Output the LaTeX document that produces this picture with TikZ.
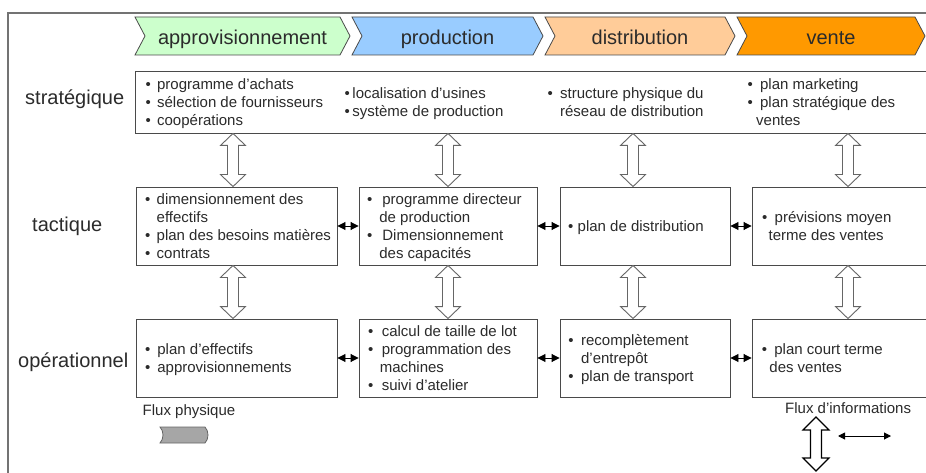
\documentclass[tikz,border=0pt]{standalone}
\usepackage{fontspec}
\setmainfont{Liberation Sans}
\usetikzlibrary{arrows.meta,calc}

\definecolor{cAppro}{HTML}{CCFFCC}
\definecolor{cProd}{HTML}{99CCFF}
\definecolor{cDistr}{HTML}{FFCC99}
\definecolor{cVente}{HTML}{FF9900}
\definecolor{ink}{HTML}{2B2B2B}
\definecolor{edge}{HTML}{4A4A4A}

\newcommand\bodytext{\fontsize{15}{18}\selectfont}
\newcommand\bigtext{\fontsize{20}{24}\selectfont}

% bullet list: bullet column, adjustable gap, text column
\newcommand\items[2][6pt]{\begin{tabular}{@{}l@{\hspace{#1}}l@{}}#2\end{tabular}}

% chevron banner: name, left x, tip x, fill colour, label
\newcommand\banner[5]{%
  \filldraw[band, fill=#4] (#2,17) -- (#3-10,17) -- (#3,36) -- (#3-10,55)
    -- (#2,55) -- (#2+10,36) -- cycle;
  \node[bandtxt, anchor=base] (#1) at ({(#2+#3)/2},44.5) {#5};}

% vertical hollow double arrow: [style]{top}{bottom}{head half width}{shaft half width}{head length}
\newcommand\hollow[6][hol]{%
  \draw[#1] let \p1=#2, \p2=#3 in
    (\x1,\y1) -- (\x1+#4,\y1-#6) -- (\x1+#5,\y1-#6) -- (\x1+#5,\y2+#6)
    -- (\x1+#4,\y2+#6) -- (\x1,\y2) -- (\x1-#4,\y2+#6) -- (\x1-#5,\y2+#6)
    -- (\x1-#5,\y1-#6) -- (\x1-#4,\y1-#6) -- cycle;}

\begin{document}
\begin{tikzpicture}[x=1pt,y=-1pt,
  frame/.style={draw=black!55, line width=1.6pt},
  box/.style={draw=edge, line width=0.9pt, fill=white, inner sep=0pt},
  txt/.style={font=\bodytext, text=ink, inner sep=0pt, anchor=west, yshift=-2pt},
  lvl/.style={font=\bigtext, text=ink, inner sep=0pt, anchor=base west},
  band/.style={draw=edge, line width=0.8pt},
  bandtxt/.style={font=\bigtext, text=ink, inner sep=0pt},
  leg/.style={font=\bodytext, text=ink, inner sep=0pt, anchor=base west},
  link/.style={{Triangle[length=8pt,width=8pt]}-{Triangle[length=8pt,width=8pt]}, line width=0.9pt, black},
  infolink/.style={{Triangle[length=7pt,width=7pt]}-{Triangle[length=7pt,width=7pt]}, line width=1pt, black},
  hol/.style={draw=black!60, line width=0.9pt, fill=white},
  legh/.style={draw=black, line width=1.2pt, fill=white},
]
\clip (0,0) rectangle (926,473);
\fill[white] (0,0) rectangle (926,473);

% outer frame
\draw[frame] (8,480) -- (8,13) -- (940,13);

% process banners
\banner{bA}{135}{350}{cAppro}{approvisionnement}
\banner{bP}{352}{543}{cProd}{production}
\banner{bD}{545}{735}{cDistr}{distribution}
\banner{bV}{737}{925}{cVente}{vente}

% decision levels
\node[lvl] (lS) at (25,104.5) {stratégique};
\node[lvl] (lT) at (32,232) {tactique};
\node[lvl] (lO) at (18,367) {opérationnel};

% boxes
\node[box, minimum width=796pt, minimum height=62pt] (s) at (533,102) {};

\node[box, minimum width=201pt, minimum height=78pt] (t1) at (236.5,226) {};
\node[box, minimum width=178pt, minimum height=78pt] (t2) at (448,226) {};
\node[box, minimum width=170pt, minimum height=78pt] (t3) at (645,226) {};
\node[box, minimum width=183pt, minimum height=78pt] (t4) at (843.5,226) {};

\node[box, minimum width=201pt, minimum height=78pt] (o1) at (236.5,358) {};
\node[box, minimum width=178pt, minimum height=78pt] (o2) at (448,358) {};
\node[box, minimum width=170pt, minimum height=78pt] (o3) at (645,358) {};
\node[box, minimum width=183pt, minimum height=78pt] (o4) at (843.5,358) {};

% strategic contents
\node[txt] (sx1) at (145.4,102) {\items[6.3pt]{•&programme d’achats\\•&sélection de fournisseurs\\•&coopérations}};
\node[txt] (sx2) at (344.5,102) {\items[2.5pt]{•&localisation d’usines\\•&système de production}};
\node[txt] (sx3) at (547.4,102) {\items[7.3pt]{•&structure physique du\\&réseau de distribution}};
\node[txt] (sx4) at (747.4,102) {\items[7.3pt]{•&plan marketing\\•&plan stratégique des\\&\hspace{-4pt}ventes}};

% tactical contents
\node[txt] (tx1) at ([xshift=9.4pt]t1.west) {\items[6.3pt]{•&dimensionnement des\\&effectifs\\•&plan des besoins matières\\•&contrats}};
\node[txt] (tx2) at ([xshift=8.4pt]t2.west) {\items[10pt]{•&programme directeur\\&\hspace{-3pt}de production\\•&Dimensionnement\\&\hspace{-3pt}des capacités}};
\node[txt] (tx3) at ([xshift=8.4pt]t3.west) {\items[4.3pt]{•&plan de distribution}};
\node[txt] (tx4) at ([xshift=10.4pt]t4.west) {\items[7.3pt]{•&prévisions moyen\\&\hspace{-6pt}terme des ventes}};

% operational contents
\node[txt] (ox1) at ([xshift=9.4pt]o1.west) {\items[7pt]{•&plan d’effectifs\\•&approvisionnements}};
\node[txt] (ox2) at ([xshift=9.4pt]o2.west) {\items[8.4pt]{•&calcul de taille de lot\\•&programmation des\\&\hspace{-2pt}machines\\•&suivi d’atelier}};
\node[txt] (ox3) at ([xshift=8.7pt]o3.west) {\items[7.4pt]{•&recomplètement\\&d’entrepôt\\•&plan de transport}};
\node[txt] (ox4) at ([xshift=10pt]o4.west) {\items[7.4pt]{•&plan court terme\\&\hspace{-5pt}des ventes}};

% information flow between levels
\coordinate (c1) at (233,0);
\coordinate (c2) at (448,0);
\coordinate (c3) at (633,0);
\coordinate (c4) at (848,0);
\foreach \c/\t/\o in {c1/t1/o1, c2/t2/o2, c3/t3/o3, c4/t4/o4}{
  \hollow{(\c |- s.south)}{(\c |- \t.north)}{12.5pt}{5.5pt}{12pt}
  \hollow{(\c |- \t.south)}{(\c |- \o.north)}{12.5pt}{5.5pt}{12pt}
}

% information flow between functions
\draw[link] (t1.east) -- (t2.west);
\draw[link] (t2.east) -- (t3.west);
\draw[link] (t3.east) -- (t4.west);
\draw[link] (o1.east) -- (o2.west);
\draw[link] (o2.east) -- (o3.west);
\draw[link] (o3.east) -- (o4.west);

% legend: physical flow
\node[leg] (fp) at (142.5,415) {Flux physique};
\filldraw[fill=black!35, draw=black!60, line width=0.8pt]
  (160,427) -- (205,427) .. controls (209,431) and (209,439) .. (205,443)
  -- (160,443) .. controls (164,439) and (164,431) .. (160,427) -- cycle;

% legend: information flow
\node[leg] (fi) at (785,413) {Flux d’informations};
\coordinate (legT) at (816,417);
\coordinate (legB) at (816,471);
\hollow[legh]{(legT)}{(legB)}{13pt}{5.5pt}{13pt}
\coordinate (infoL) at (838,436);
\coordinate (infoR) at (891,436);
\draw[infolink] (infoL) -- (infoR);
\end{tikzpicture}
\end{document}
